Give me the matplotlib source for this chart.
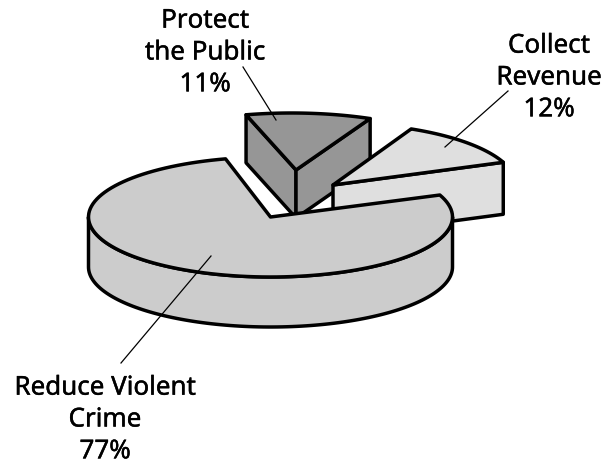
import numpy as np
import matplotlib
matplotlib.use("Agg")
import matplotlib.pyplot as plt
import matplotlib.patheffects as pe
from matplotlib.patches import Polygon

# Chart data
labels = ["Reduce Violent\nCrime\n77%", "Collect\nRevenue\n12%", "Protect\nthe Public\n11%"]
shares = [77, 12, 11]
colors = ["#CCCCCC", "#DFDFDF", "#969696"]

W, H = 602, 463
START = 104.3
EDGE = 2.5


def arc(center, rx, ry, t0, t1, dy=0):
    t = np.radians(np.linspace(t0, t1, 120))
    return np.column_stack([center[0] + rx * np.cos(t), center[1] - ry * np.sin(t) + dy])


def face(ax, pts, color, z):
    ax.add_patch(Polygon(pts, closed=True, facecolor=color, edgecolor="black",
                         linewidth=EDGE, joinstyle="round", zorder=z))


# Slice angles come from the shares, going counterclockwise from START
sweeps = [s / sum(shares) * 360 for s in shares]
big_t0, big_t1 = START, START + sweeps[0]
rev_t0, rev_t1 = big_t1 - 360, big_t1 - 360 + sweeps[1]
pro_t0, pro_t1 = rev_t1, rev_t1 + sweeps[2]

fig = plt.figure(figsize=(W / 100, H / 100), dpi=100)
ax = fig.add_axes([0, 0, 1, 1])
ax.set_xlim(0, W)
ax.set_ylim(H, 0)
ax.axis("off")

# Protect the Public, furthest back
apex = (296, 170)
c = (291.5, 171)
depth = 48
top = arc(c, 184, 58, pro_t0, pro_t1)
face(ax, [apex, top[-1], top[-1] + [0, depth], (apex[0], apex[1] + depth)], colors[2], 1)
face(ax, [apex, top[0], top[0] + [0, depth], (apex[0], apex[1] + depth)], colors[2], 1)
face(ax, np.vstack([[apex], top]), colors[2], 2)

# Collect Revenue
apex = (333, 185)
depth = 52
top = arc(apex, 183, 62, rev_t0, rev_t1)
face(ax, [apex, top[0], top[0] + [0, depth], (apex[0], apex[1] + depth)], colors[1], 3)
face(ax, np.vstack([[apex], top]), colors[1], 4)

# Reduce Violent Crime, in front
apex = (270.5, 217)
depth = 50
rim = arc(apex, 182, 60, 180, 360)
low = arc(apex, 182, 60, 360, 180, dy=depth)
face(ax, np.vstack([rim, low]), colors[0], 5)
face(ax, np.vstack([[apex], arc(apex, 182, 60, big_t0, big_t1)]), colors[0], 6)

# Leader lines
ax.plot([121, 211], [363, 256], color="black", lw=0.9, zorder=7)
ax.plot([508, 445], [91, 147], color="black", lw=0.9, zorder=7)
ax.plot([243, 276], [67, 120], color="black", lw=0.9, zorder=7)

# Labels
for text, x, y in zip(labels, [105, 549, 205], [420, 78, 53]):
    t = ax.text(x, y, text, ha="center", va="center", fontsize=18.7, fontfamily="Noto Sans",
                color="black", linespacing=1.36)
    t.set_path_effects([pe.withStroke(linewidth=0.3, foreground="black")])

fig.savefig("out.png", dpi=100, facecolor="white")
